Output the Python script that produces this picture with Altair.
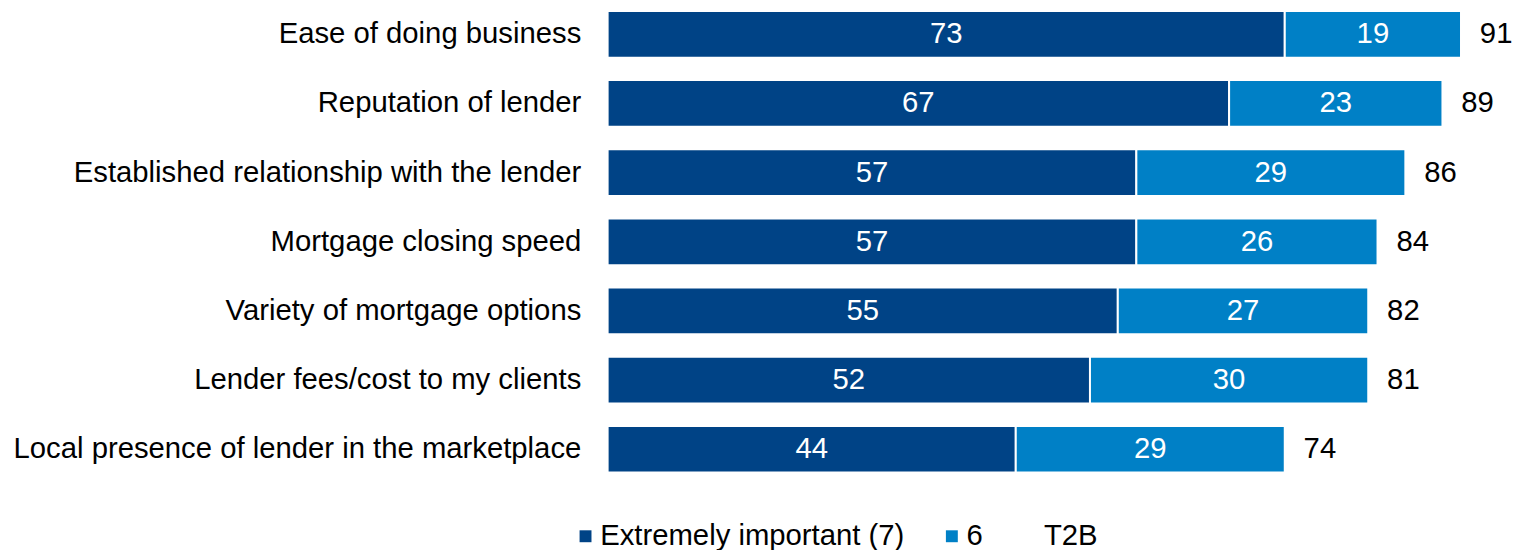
import altair as alt
import pandas as pd

categories = [
    "Ease of doing business",
    "Reputation of lender",
    "Established relationship with the lender",
    "Mortgage closing speed",
    "Variety of mortgage options",
    "Lender fees/cost to my clients",
    "Local presence of lender in the marketplace",
]
extremely = [73, 67, 57, 57, 55, 52, 44]
six = [19, 23, 29, 26, 27, 30, 29]
t2b = [91, 89, 86, 84, 82, 81, 74]

series = ["Extremely important (7)", "6", "T2B"]
colors = ["#004386", "#0080C6", "white"]

rows = []
for c, a, b in zip(categories, extremely, six):
    rows.append({"cat": c, "series": series[0], "start": 0, "end": a, "val": a, "ord": 0})
    rows.append({"cat": c, "series": series[1], "start": a, "end": a + b, "val": b, "ord": 1})
seg = pd.DataFrame(rows)
seg["mid"] = (seg["start"] + seg["end"]) / 2

tot = pd.DataFrame({
    "cat": categories,
    "end": [a + b for a, b in zip(extremely, six)],
    "t2b": t2b,
    "series": ["T2B"] * len(categories),
})

FONT = "Liberation Sans"
FS = 29.5

y = alt.Y("cat:N", sort=categories, title=None,
          scale=alt.Scale(paddingInner=0.325, paddingOuter=0),
          axis=alt.Axis(domain=False, ticks=False, labelFontSize=FS, labelFont=FONT,
                        labelColor="black", labelPadding=27, labelLimit=900))
xs = alt.Scale(domain=[0, 96], nice=False, zero=True)

bars = alt.Chart(seg).mark_bar(stroke="white", strokeWidth=2).encode(
    y=y,
    x=alt.X("start:Q", scale=xs, axis=None),
    x2="end:Q",
    color=alt.Color("series:N", scale=alt.Scale(domain=series, range=colors),
                    legend=alt.Legend(title=None, orient="none", direction="horizontal",
                                      legendX=-37, legendY=514, symbolType="square",
                                      symbolSize=144, labelFontSize=FS, labelFont=FONT,
                                      labelColor="black", columnPadding=32,
                                      labelOffset=0, symbolStrokeWidth=0,
                                      labelLimit=600)),
)

labels = alt.Chart(seg).mark_text(color="white", fontSize=FS, font=FONT).encode(
    y=alt.Y("cat:N", sort=categories),
    x=alt.X("mid:Q", scale=xs),
    text="val:Q",
)

totals = alt.Chart(tot).mark_text(color="black", fontSize=FS, font=FONT,
                                  align="left", dx=19).encode(
    y=alt.Y("cat:N", sort=categories),
    x=alt.X("end:Q", scale=xs),
    text="t2b:Q",
)

chart = alt.layer(bars, labels, totals).properties(
    width=897, height=465, background="white",
    padding={"left": 4, "top": 0, "right": 0, "bottom": 0},
).configure_view(strokeWidth=0)

chart.save("out.html", embed_options={"renderer": "svg", "actions": False})
